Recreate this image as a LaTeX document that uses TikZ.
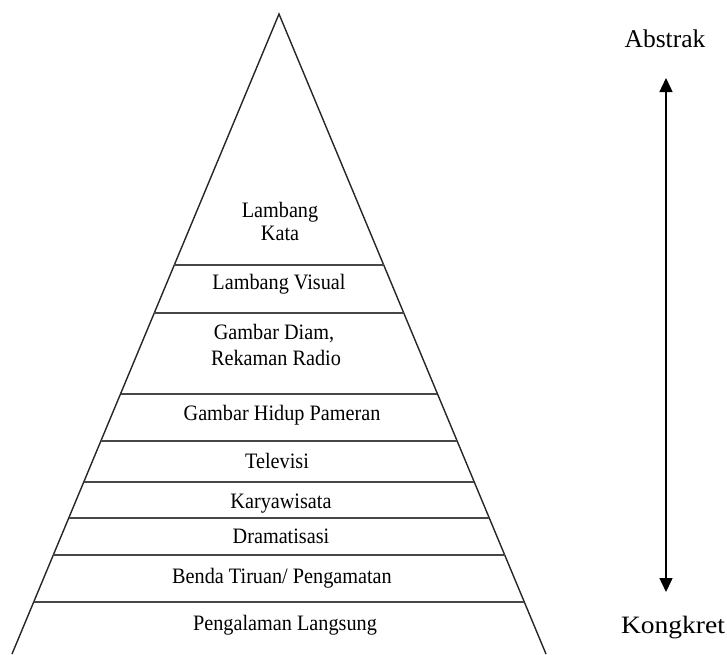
\documentclass[tikz,border=0pt]{standalone}
\usepackage{fontspec}
\setmainfont{Liberation Serif}[FakeStretch=0.92]
\newfontfamily\lblfont{Liberation Serif}
\newfontfamily\lblwidefont{Liberation Serif}[FakeStretch=1.1]
\usetikzlibrary{calc,arrows.meta}
\begin{document}
\begin{tikzpicture}[x=1pt,y=-1pt,
  >={Triangle[width=13pt,length=14pt]},
  lvl/.style={font=\fontsize{22}{22}\selectfont, inner sep=0, anchor=base, text=black},
  side/.style={line width=1.4pt, black!85},
  sepline/.style={line width=2pt, black!72},
  lbl/.style={inner sep=0, anchor=base, text=black}]
\useasboundingbox (0,0) rectangle (727,654);
\coordinate (apex) at (279,14);
\coordinate (BL) at (12,654);
\coordinate (BR) at (546,654);
\draw[side] (BL) -- (apex) -- (BR);
\foreach \yy in {264.5,313,393.5,441,482,518,555,602}{
  \pgfmathsetmacro\lvlt{(\yy-14)/640}
  \draw[sepline] ($(apex)!\lvlt!(BL)$) -- ($(apex)!\lvlt!(BR)$);
}
\node[lvl] (t1a) at (280,217.3) {Lambang};
\node[lvl] (t1b) at (280,240) {Kata};
\node[lvl] (t2) at (279,289.5) {Lambang Visual};
\node[lvl] (t3a) at (274,339) {Gambar Diam,};
\node[lvl] (t3b) at (276,365.7) {Rekaman Radio};
\node[lvl] (t4) at (282,420.7) {Gambar Hidup Pameran};
\node[lvl] (t5) at (277,468) {Televisi};
\node[lvl] (t6) at (281,508) {Karyawisata};
\node[lvl] (t7) at (281,543.5) {Dramatisasi};
\node[lvl] (t8) at (282,583) {Benda Tiruan/ Pengamatan};
\node[lvl] (t9) at (285,630) {Pengalaman Langsung};
\node[lbl, font=\lblfont\fontsize{25.5}{25.5}\selectfont] (abs) at (665,47) {Abstrak};
\node[lbl, font=\lblwidefont\fontsize{25}{25}\selectfont] (kon) at (673,633.3) {Kongkret};
\coordinate (atop) at (666,78);
\coordinate (abot) at (666,592);
\draw[line width=1.4pt, black, <->] (atop) -- (abot);
\end{tikzpicture}
\end{document}
